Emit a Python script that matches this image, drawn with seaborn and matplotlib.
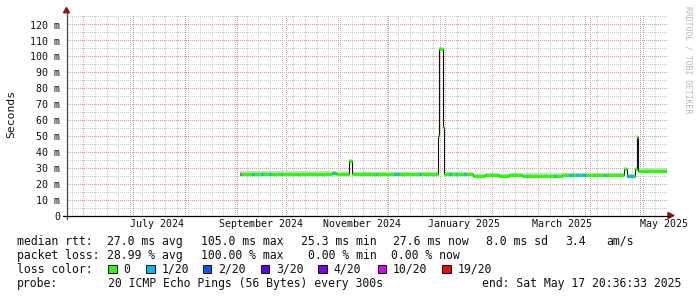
import matplotlib
matplotlib.use('Agg')
import matplotlib.pyplot as plt
import matplotlib.dates as mdates
from matplotlib.ticker import FixedLocator, NullFormatter
from matplotlib.patches import Polygon, Rectangle
from matplotlib.lines import Line2D
import seaborn as sns
import pandas as pd
import numpy as np

# ---------------- data ----------------
step_times = ['2024-09-03 16:00', '2024-10-29 00:00', '2024-10-31 00:00', '2024-11-08 08:00',
              '2024-11-09 16:00', '2024-12-31 06:00', '2024-12-31 20:00', '2025-01-03 08:00',
              '2025-01-04 04:00', '2025-01-21 14:00', '2025-01-28 10:00', '2025-02-05 20:00',
              '2025-02-11 20:00', '2025-02-19 14:00', '2025-03-01 20:00', '2025-03-15 14:00',
              '2025-04-22 00:00', '2025-04-23 14:00', '2025-04-28 14:00', '2025-04-29 14:00',
              '2025-04-30 14:00', '2025-05-17 20:00']
median_ms = [26.5, 27.2, 26.4, 34.5, 26.3, 50.0, 105.0, 56.0, 26.1, 25.1, 25.6,
             25.1, 25.6, 25.3, 25.1, 25.9, 29.5, 25.2, 29.5, 49.5, 28.3]
smoke_high_ms = [28.0, 28.3, 27.8, 35.5, 27.6, 51.0, 106.0, 57.0, 27.4, 26.6, 27.0,
                 26.6, 27.0, 26.8, 26.7, 27.2, 30.5, 26.6, 30.5, 50.5, 30.3]
smoke_low_ms = [25.7, 26.4, 25.7, 33.8, 25.6, 49.3, 104.3, 55.3, 25.4, 24.4, 24.9,
                24.4, 24.9, 24.6, 24.4, 25.2, 28.8, 24.5, 28.8, 48.8, 27.6]

loss_start = ['2024-09-03 16:00', '2024-09-11', '2024-09-16', '2024-09-21', '2024-09-28',
              '2024-10-29 06:00', '2024-11-24', '2024-12-05', '2024-12-07', '2024-12-20',
              '2025-01-07', '2025-01-11', '2025-01-16', '2025-02-22', '2025-03-11',
              '2025-03-20', '2025-03-24', '2025-03-27', '2025-04-10', '2025-04-24']
loss_days = [0.8, 1.2, 1.2, 1.0, 1.0, 1.2, 1.0, 1.2, 0.8, 1.4,
             1.2, 1.0, 1.0, 1.0, 1.0, 2.5, 2.0, 3.0, 1.0, 3.5]
loss_level = [5, 1, 1, 1, 1, 1, 1, 1, 1, 1,
              1, 1, 1, 1, 1, 1, 1, 1, 1, 1]

loss_labels = ['0', '1/20', '2/20', '3/20', '4/20', '10/20', '19/20']
loss_colors = ['#26ff00', '#00b8ff', '#0059ff', '#5e00ff', '#7e00ff', '#dd00ff', '#ff0000']

y_ticks = [0, 10, 20, 30, 40, 50, 60, 70, 80, 90, 100, 110, 120]
y_tick_labels = ['0', '10 m', '20 m', '30 m', '40 m', '50 m', '60 m', '70 m', '80 m',
                 '90 m', '100 m', '110 m', '120 m']
y_minor_ticks = [5, 15, 25, 35, 45, 55, 65, 75, 85, 95, 105, 115, 125]
x_labels = ['July 2024', 'September 2024', 'November 2024', 'January 2025', 'March 2025', 'May 2025']
x_label_months = ['2024-07-01', '2024-09-01', '2024-11-01', '2025-01-01', '2025-03-01', '2025-05-01']

range_start = '2024-05-22 20:36:33'
range_end = '2025-05-17 20:36:33'

rtt_head = 'median rtt:'
rtt_items = ['27.0 ms avg', '105.0 ms max', '25.3 ms min', '27.6 ms now', '8.0 ms sd', '3.4', 'am/s']
loss_head = 'packet loss:'
loss_items = ['28.99 % avg', '100.00 % max', '0.00 % min', '0.00 % now']
color_head = 'loss color:'
probe_head = 'probe:'
probe_text = '20 ICMP Echo Pings (56 Bytes) every 300s'
end_text = 'end: Sat May 17 20:36:33 2025'
y_title = 'Seconds'
watermark = 'RRDTOOL / TOBI OETIKER'

# ---------------- figure ----------------
sns.set_style('white')
plt.rcParams['font.family'] = ['DejaVu Sans Mono', 'DejaVu Sans']

W, H = 697, 297
fig = plt.figure(figsize=(W / 100, H / 100), dpi=100, facecolor='white')

def fx(x):
    return x / W

def fy(y):
    return 1 - y / H

AX_L, AX_B, AX_W, AX_HP = 67, 216, 600, 201
PX_PER_MS = 1.595
YMAX = AX_HP / PX_PER_MS
ax = fig.add_axes([fx(AX_L), fy(AX_B), AX_W / W, AX_HP / H])
ax.set_facecolor('white')

times = pd.to_datetime(step_times)
tnum = mdates.date2num(times)
x0 = mdates.date2num(pd.Timestamp(range_start))
x1 = mdates.date2num(pd.Timestamp(range_end))

# ---- dotted grid rendered pixel-exact as an image ----
grid = np.zeros((AX_HP, AX_W, 4))
minor_c = np.array([0.79, 0.79, 0.79, 1.0])
major_c = np.array([0.90, 0.60, 0.60, 1.0])

def col_of(d):
    return int(np.floor((mdates.date2num(pd.Timestamp(d)) - x0) / (x1 - x0) * AX_W))

def row_of(v):
    return int(np.floor((YMAX - v) / YMAX * AX_HP))

weeks = pd.date_range(range_start, range_end, freq='W-SUN').normalize()
months = pd.date_range(range_start, range_end, freq='MS')
for d in weeks:
    c = col_of(d)
    if 0 < c < AX_W:
        grid[1::2, c] = minor_c
for v in y_minor_ticks:
    r = row_of(v)
    if 0 <= r < AX_HP:
        grid[r, 1::2] = minor_c
for d in months:
    c = col_of(d)
    if 0 < c < AX_W:
        grid[1::2, c] = major_c
for v in y_ticks[1:]:
    r = row_of(v)
    if 0 <= r < AX_HP:
        grid[r, 1::2] = major_c
ax.imshow(grid, extent=(x0, x1, 0, YMAX), aspect='auto', interpolation='nearest',
          origin='upper', zorder=0.5)

# smoke
smoke_hi = list(smoke_high_ms) + [smoke_high_ms[-1]]
smoke_lo = list(smoke_low_ms) + [smoke_low_ms[-1]]
ax.fill_between(tnum, smoke_lo, smoke_hi, step='post', color='#d2d2d2', lw=0, zorder=1.5)

# black median connector (step)
df = pd.DataFrame({'time': tnum, 'median': list(median_ms) + [median_ms[-1]]})
sns.lineplot(data=df, x='time', y='median', drawstyle='steps-post', color='#111111',
             linewidth=0.8, estimator=None, legend=False, ax=ax, zorder=2)

# coloured median segments (no loss)
for i, v in enumerate(median_ms):
    ax.hlines(v, tnum[i], tnum[i + 1], color=loss_colors[0], lw=2.3, zorder=3)

# loss-coloured segments
for s, d, lv in zip(loss_start, loss_days, loss_level):
    t0 = mdates.date2num(pd.Timestamp(s))
    idx = int(np.searchsorted(tnum, t0, side='right')) - 1
    idx = max(0, min(idx, len(median_ms) - 1))
    ax.hlines(median_ms[idx], t0, t0 + d, color=loss_colors[lv], lw=2.3, zorder=4)

ax.set_xlim(x0, x1)
ax.set_ylim(0, YMAX)

ax.xaxis.set_major_locator(FixedLocator([]))
ax.xaxis.set_major_formatter(NullFormatter())
ax.yaxis.set_major_locator(FixedLocator(y_ticks))
ax.set_yticklabels(y_tick_labels)
ax.tick_params(axis='both', which='both', length=0)
ax.tick_params(axis='y', pad=4.9, labelsize=7.2, labelcolor='#111111')
ax.grid(False)
for sp in ax.spines.values():
    sp.set_visible(False)
ax.set_xlabel('')
ax.set_ylabel('')

# x labels at mid-month
for lab, m in zip(x_labels, x_label_months):
    xm = mdates.date2num(pd.Timestamp(m) + pd.Timedelta(days=15))
    ax.annotate(lab, xy=(xm, 0), xycoords=('data', 'axes fraction'),
                xytext=(0, -2.5), textcoords='offset points', ha='center', va='top',
                fontsize=7.2, color='#111111', annotation_clip=False)

# axes lines and arrows
fig.add_artist(Line2D([fx(63), fx(669)], [fy(215.5), fy(215.5)], color='black', lw=0.9,
                      transform=fig.transFigure))
fig.add_artist(Line2D([fx(66.5), fx(66.5)], [fy(219), fy(12)], color='#444444', lw=0.9,
                      transform=fig.transFigure))
arrow_c = '#8e1414'
fig.add_artist(Polygon([[fx(668), fy(212.5)], [fx(668), fy(218.5)], [fx(674), fy(215.5)]],
                       closed=True, color=arrow_c, transform=fig.transFigure))
fig.add_artist(Polygon([[fx(63.5), fy(12.8)], [fx(69.5), fy(12.8)], [fx(66.5), fy(7.5)]],
                       closed=True, color=arrow_c, transform=fig.transFigure))

# y title and watermark
fig.text(fx(11), fy(113.5), y_title, rotation=90, ha='center', va='center', fontsize=8.2,
         color='#111111')
fig.text(fx(688), fy(60), watermark, rotation=270, ha='center', va='center', fontsize=5.9,
         color='#b8b8b8')

# legend / statistics
FS = 8.3
TXT = '#111111'
base = [244.7, 258.7, 273.0, 287.0]

def put(x, y, s, ha='left'):
    fig.text(fx(x), fy(y), s, ha=ha, va='baseline', fontsize=FS, color=TXT)

put(16.7, base[0], rtt_head)
for x, s in zip([107.3, 201, 300.7, 392.7, 486, 565, 606.7], rtt_items):
    put(x, base[0], s)
put(16.7, base[1], loss_head)
for x, s in zip([107.3, 201, 308.3, 391], loss_items):
    put(x, base[1], s)
put(16.7, base[2], color_head)
box_x = [108.3, 146, 202.7, 260.7, 318.3, 377.5, 442]
for bx, lab, c in zip(box_x, loss_labels, loss_colors):
    fig.add_artist(Rectangle((fx(bx), fy(273.3)), 8.5 / W, 8.3 / H, transform=fig.transFigure,
                             facecolor=c, edgecolor='#111111', lw=0.7))
    put(bx + 15.2, base[2], lab)
put(16.7, base[3], probe_head)
put(107.5, base[3], probe_text)
put(681.5, base[3], end_text, ha='right')

fig.savefig('out.png', dpi=100, facecolor='white')
